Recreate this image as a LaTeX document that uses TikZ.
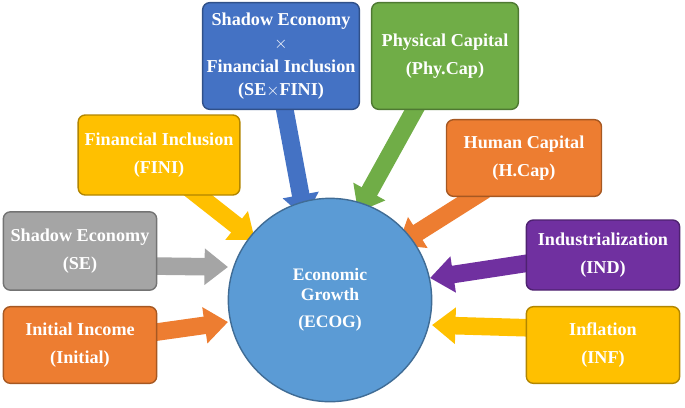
\documentclass[tikz,border=0pt]{standalone}
\usepackage{fontspec}
\setmainfont{Liberation Serif}
\usetikzlibrary{arrows.meta}
\definecolor{cblue}{RGB}{68,114,196}
\definecolor{cgreen}{RGB}{112,173,71}
\definecolor{cyellow}{RGB}{255,192,0}
\definecolor{corange}{RGB}{237,125,49}
\definecolor{cgray}{RGB}{165,165,165}
\definecolor{cpurple}{RGB}{112,48,160}
\definecolor{ccircle}{RGB}{91,155,213}
\tikzset{
  box/.style={draw=#1!70!black, line width=1.2pt, fill=#1, rounded corners=6pt,
    text=white, font=\bfseries\fontsize{15.5}{18}\selectfont, align=center, inner sep=2pt},
  blockarrow/.style={draw=#1!70!black, line width=15pt, #1,
    -{Triangle[length=20pt,width=30pt]}, shorten >=0pt}
}
\begin{document}
\begin{tikzpicture}[x=0.03cm,y=-0.03cm]
\useasboundingbox (0,0) rectangle (685,407);
% arrows first, below the boxes
\coordinate (aFINI) at (255,240);
\coordinate (aSE) at (228,267);
\coordinate (aINI) at (228,322);
\coordinate (aSEF) at (305,218);
\coordinate (aPHY) at (358,212);
\coordinate (aHC) at (398,245);
\coordinate (aIND) at (430,278);
\coordinate (aINF) at (432,325);
\draw[blockarrow=cyellow] (185,185) -- (aFINI);
\draw[blockarrow=cgray] (150,266) -- (aSE);
\draw[blockarrow=corange] (150,333) -- (aINI);
\draw[blockarrow=cblue] (283,100) -- (aSEF);
\draw[blockarrow=cgreen] (420,100) -- (aPHY);
\draw[blockarrow=corange] (485,190) -- (aHC);
\draw[blockarrow=cpurple] (535,262) -- (aIND);
\draw[blockarrow=cyellow] (535,328) -- (aINF);
% centre
\node (ECOG) [circle, draw=ccircle!70!black, line width=1.2pt, fill=ccircle, minimum size=6.1cm,
  text=white, font=\bfseries\fontsize{15}{17}\selectfont, align=center] at (330,300)
  {Economic\\Growth\\[6pt](ECOG)};
% boxes
\node (SEF) [box=cblue, minimum width=4.7cm, minimum height=3.2cm] at (281,56)
  {Shadow Economy\\[2pt]$\times$\\[2pt]Financial Inclusion\\[2pt](SE$\times$FINI)};
\node (PHY) [box=cgreen, minimum width=4.4cm, minimum height=3.2cm] at (445,56)
  {Physical Capital\\[6pt](Phy.Cap)};
\node (FINI) [box=cyellow, minimum width=4.85cm, minimum height=2.4cm] at (159,155)
  {Financial Inclusion\\[6pt](FINI)};
\node (HC) [box=corange, minimum width=4.65cm, minimum height=2.3cm] at (524,158)
  {Human Capital\\[6pt](H.Cap)};
\node (SE) [box=cgray, minimum width=4.6cm, minimum height=2.35cm] at (80,251)
  {Shadow Economy\\[6pt](SE)};
\node (IND) [box=cpurple, minimum width=4.6cm, minimum height=2.1cm] at (603,255)
  {Industrialization\\[6pt](IND)};
\node (INI) [box=corange, minimum width=4.6cm, minimum height=2.3cm] at (80,345)
  {Initial Income\\[6pt](Initial)};
\node (INF) [box=cyellow, minimum width=4.6cm, minimum height=2.3cm] at (603,345)
  {Inflation\\[6pt](INF)};
\end{tikzpicture}
\end{document}
